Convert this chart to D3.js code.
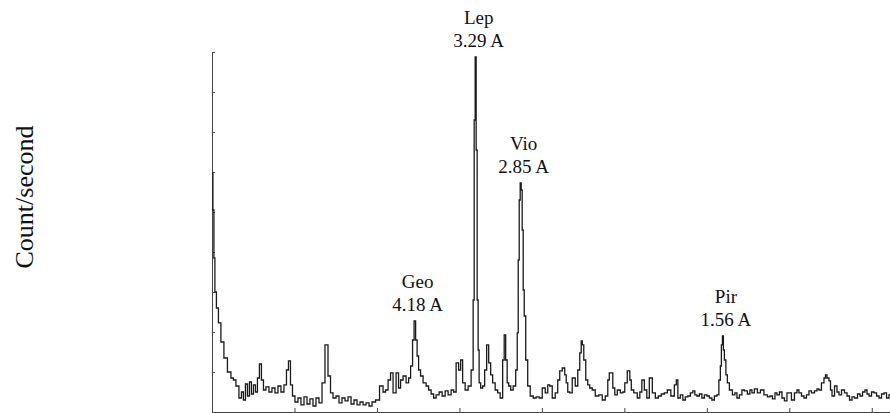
<!DOCTYPE html>
<html lang="en">

<head>
    <meta charset="UTF-8">
    <title>XRD pattern</title>
    <style>
        body { margin: 0; background: #fff; }
        svg { display: block; }
        .peak-label { font-family: "Liberation Serif", "Times New Roman", serif; font-size: 19px; fill: #111; }
        .y-axis-label { font-family: "Liberation Serif", "Times New Roman", serif; font-size: 26px; fill: #111; }
        .axis path, .axis line { stroke: #444; }
    </style>
</head>

<body>
    <div id="wrapper"></div>

    <script src="https://d3js.org/d3.v7.min.js"></script>
    <script>
        // 2θ positions (degrees)
        const twoTheta = [
            5.05, 5.17, 5.29, 5.41, 5.66, 5.90, 6.26, 6.63, 7.11, 7.48, 7.72, 8.08, 8.45, 8.69, 8.93, 9.18,
            9.42, 9.66, 9.90, 10.15, 10.39, 10.63, 10.87, 11.12, 11.36, 11.72, 12.09, 12.45, 12.82, 13.18,
            13.54, 13.91, 14.15, 14.39, 14.64, 14.88, 15.24, 15.61, 15.97, 16.34, 16.70, 17.06, 17.43, 17.79,
            18.16, 18.52, 18.88, 19.25, 19.49, 19.86, 20.22, 20.58, 20.95, 21.31, 21.68, 22.04, 22.40, 22.77,
            23.13, 23.50, 23.86, 24.22, 24.59, 25.07, 25.56, 25.92, 26.17, 26.53, 26.77, 27.14, 27.50, 27.74,
            27.99, 28.35, 28.72, 28.96, 29.20, 29.44, 29.57, 29.81, 29.93, 30.17, 30.41, 30.78, 31.14, 31.39,
            31.75, 31.99, 32.36, 32.72, 33.09, 33.45, 33.81, 34.18, 34.42, 34.78, 35.03, 35.27, 35.51, 35.88,
            36.24, 36.60, 36.73, 36.85, 36.97, 37.09, 37.21, 37.33, 37.45, 37.70, 37.94, 38.18, 38.43, 38.67,
            38.91, 39.15, 39.52, 39.76, 40.12, 40.37, 40.49, 40.73, 40.85, 41.10, 41.34, 41.70, 41.95, 42.07,
            42.19, 42.31, 42.43, 42.55, 42.67, 42.80, 42.92, 43.16, 43.40, 43.77, 44.13, 44.49, 44.86, 45.22,
            45.59, 45.83, 46.07, 46.44, 46.80, 47.04, 47.29, 47.65, 47.89, 48.01, 48.26, 48.50, 48.86, 49.23,
            49.47, 49.71, 49.83, 49.96, 50.20, 50.44, 50.68, 50.93, 51.29, 51.65, 52.14, 52.50, 52.87, 53.11,
            53.23, 53.48, 53.72, 53.96, 54.33, 54.69, 54.93, 55.17, 55.54, 55.78, 55.90, 56.39, 56.75, 57.00,
            57.24, 57.60, 57.84, 58.21, 58.57, 58.94, 59.30, 59.66, 60.03, 60.39, 60.88, 61.24, 61.36, 61.61,
            61.97, 62.21, 62.58, 62.82, 63.18, 63.43, 63.67, 63.91, 64.28, 64.52, 64.88, 65.13, 65.49, 65.73,
            66.10, 66.34, 66.58, 66.70, 66.83, 66.95, 67.07, 67.19, 67.43, 67.55, 67.92, 68.28, 68.53, 68.77,
            69.13, 69.38, 69.74, 70.10, 70.35, 70.59, 70.95, 71.32, 71.68, 72.17, 72.53, 72.77, 73.14, 73.38,
            73.62, 73.99, 74.23, 74.59, 74.84, 75.08, 75.44, 75.81, 76.05, 76.29, 76.66, 76.90, 77.26, 77.51,
            77.87, 78.24, 78.48, 78.72, 79.08, 79.33, 79.45, 79.69, 79.93, 80.06, 80.30, 80.66, 80.90, 81.15,
            81.51, 81.88, 82.12, 82.48, 82.73, 83.09, 83.45, 83.70, 84.06, 84.30, 84.55, 84.79, 85.15, 85.40,
            85.76, 86.00, 86.37, 86.61, 86.97, 87.21
        ];

        // intensity (count/second)
        const counts = [
            598, 505, 385, 300, 260, 223, 175, 135, 100, 85, 80, 65, 35, 50, 30, 70,
            40, 75, 45, 68, 50, 85, 120, 80, 55, 63, 50, 60, 48, 65,
            50, 68, 105, 128, 68, 40, 25, 35, 18, 38, 20, 33, 15, 35,
            23, 73, 168, 90, 48, 35, 40, 23, 35, 28, 38, 20, 30, 18,
            25, 18, 23, 15, 25, 30, 65, 50, 55, 80, 98, 48, 98, 60,
            80, 90, 73, 85, 115, 180, 228, 180, 140, 105, 90, 73, 65, 55,
            45, 35, 43, 50, 40, 53, 43, 55, 50, 123, 105, 130, 73, 55,
            65, 105, 280, 730, 888, 655, 280, 155, 73, 60, 65, 105, 168, 123,
            93, 73, 55, 48, 35, 130, 193, 130, 73, 65, 55, 65, 105, 198,
            380, 530, 573, 555, 455, 305, 240, 130, 65, 40, 35, 38, 35, 60,
            48, 68, 65, 35, 48, 80, 103, 110, 93, 73, 50, 48, 85, 65,
            105, 148, 178, 168, 130, 80, 68, 60, 55, 40, 43, 30, 40, 80,
            98, 98, 60, 43, 55, 48, 50, 73, 103, 80, 55, 48, 35, 50,
            80, 55, 35, 85, 48, 35, 40, 45, 48, 55, 40, 68, 80, 35,
            43, 30, 38, 40, 48, 53, 43, 40, 45, 35, 43, 40, 35, 30,
            40, 43, 80, 115, 168, 190, 155, 130, 93, 73, 55, 43, 48, 35,
            43, 55, 53, 45, 55, 48, 58, 48, 55, 43, 38, 40, 33, 48,
            43, 50, 35, 28, 48, 48, 30, 48, 55, 48, 40, 35, 43, 53,
            48, 53, 58, 55, 73, 85, 93, 85, 78, 55, 40, 65, 50, 43,
            55, 48, 40, 30, 38, 35, 45, 40, 50, 55, 45, 40, 50, 48,
            40, 35, 45, 48, 35, 43
        ];

        // labelled peaks
        const peakNames = ["Geo", "Lep", "Vio", "Pir"];
        const peakD = ["4.18 A", "3.29 A", "2.85 A", "1.56 A"];
        const peakTheta = [29.57, 36.97, 42.43, 66.95];

        const yTicks = d3.range(0, 901, 100);
        const xTicks = d3.range(5, 86, 10);

        const dataset = twoTheta.map((t, i) => ({ t: t, c: counts[i] }));
        const xAccessor = d => d.t;
        const yAccessor = d => d.c;

        let dimensions = {
            width: 890,
            height: 413,
            margin: { top: 52, right: 0, bottom: 1, left: 212 },
        };
        dimensions.boundedWidth = dimensions.width - dimensions.margin.left - dimensions.margin.right;
        dimensions.boundedHeight = dimensions.height - dimensions.margin.top - dimensions.margin.bottom;

        const wrapper = d3.select("#wrapper")
            .append("svg")
            .attr("width", dimensions.width)
            .attr("height", dimensions.height);

        const bounds = wrapper.append("g")
            .attr("transform", `translate(${dimensions.margin.left},${dimensions.margin.top})`);

        const xScale = d3.scaleLinear()
            .domain([5, 87.21])
            .range([0, dimensions.boundedWidth]);

        const yScale = d3.scaleLinear()
            .domain([0, 900])
            .range([dimensions.boundedHeight, 0]);

        // axes: ticks point inward, no labels
        bounds.append("g")
            .attr("class", "axis")
            .call(d3.axisLeft(yScale).tickValues(yTicks).tickSize(-3).tickSizeOuter(0).tickFormat(""));

        bounds.append("g")
            .attr("class", "axis")
            .attr("transform", `translate(0,${dimensions.boundedHeight})`)
            .call(d3.axisBottom(xScale).tickValues(xTicks).tickSize(-4).tickSizeOuter(0).tickFormat(""));

        // stepped trace, like the counter output
        const lineGenerator = d3.line()
            .x(d => xScale(xAccessor(d)))
            .y(d => yScale(yAccessor(d)))
            .curve(d3.curveStep);

        bounds.append("path")
            .attr("d", lineGenerator(dataset))
            .attr("fill", "none")
            .attr("stroke", "#1a1a1a")
            .attr("stroke-width", 1.3);

        // peak labels above each peak
        const peakTop = t => {
            const near = dataset.filter(d => Math.abs(d.t - t) < 0.2);
            return d3.max(near, yAccessor);
        };
        const labels = bounds.append("g");
        peakNames.forEach((name, i) => {
            const px = xScale(peakTheta[i]) + 3;
            const py = yScale(peakTop(peakTheta[i])) - 10;
            labels.append("text")
                .attr("class", "peak-label")
                .attr("x", px)
                .attr("y", py - 23)
                .attr("text-anchor", "middle")
                .text(name);
            labels.append("text")
                .attr("class", "peak-label")
                .attr("x", px)
                .attr("y", py)
                .attr("text-anchor", "middle")
                .text(peakD[i]);
        });

        wrapper.append("text")
            .attr("class", "y-axis-label")
            .attr("transform", "rotate(-90)")
            .attr("x", -197)
            .attr("y", 33)
            .attr("text-anchor", "middle")
            .text("Count/second");
    </script>
</body>

</html>
